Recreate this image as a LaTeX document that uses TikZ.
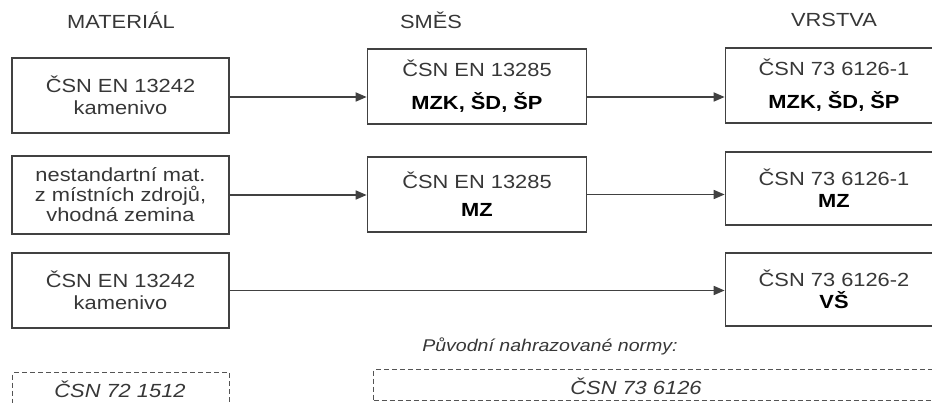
\documentclass[tikz,border=0pt]{standalone}
\usepackage{fontspec}
\setmainfont[FakeStretch=1.15]{Liberation Sans}
\usetikzlibrary{arrows.meta}
\newcommand{\typ}[1]{{\color{black}\bfseries #1}}

\begin{document}
\begin{tikzpicture}[x=1pt,y=-1pt,>={Triangle[length=11pt,width=9pt]},
 font=\fontsize{19}{22}\selectfont, line width=1.7pt]
\definecolor{frame}{RGB}{65,65,65}
\definecolor{txt}{RGB}{55,55,55}
\tikzset{
 normbox/.style={draw=frame,text=txt,align=center,minimum width=217pt,
  minimum height=75pt,inner sep=0pt},
 oldbox/.style={draw=frame!90,dash pattern=on 5pt off 3pt,line width=1.3pt,
  anchor=north west,inner sep=0pt},
 oldtext/.style={text=txt,font=\fontsize{19}{22}\selectfont\itshape},
 head/.style={text=txt},
 link/.style={->,draw=frame}
}
\useasboundingbox (0,0) rectangle (932,403);
\clip (0,0) rectangle (932,403);

% column titles
\node[head] (hmat) at (121,20) {MATERIÁL};
\node[head] (hsm) at (431,20) {SMĚS};
\node[head] (hvr) at (834,20) {VRSTVA};

% row 1
\node[normbox] (l1) at (120.5,95.5) {ČSN EN 13242\\kamenivo};
\node[normbox,minimum width=219pt] (m1) at (477,86.5)
 {ČSN EN 13285\\[11pt]\typ{MZK, ŠD, ŠP}};
\node[normbox] (v1) at (834,85.5)
 {ČSN 73 6126-1\\[11pt]\typ{MZK, ŠD, ŠP}};
\draw[link] ([yshift=-1.5pt]l1.east) -- ([yshift=-1.5pt]l1.east -| m1.west);
\draw[link] ([yshift=-10.5pt]m1.east) -- ([yshift=-10.5pt]m1.east -| v1.west);

% row 2
\node[normbox,minimum height=78pt] (l2) at (120.5,195)
 {nestandartní mat.\\[-2pt]z místních zdrojů,\\[-2pt]vhodná zemina};
\node[normbox,minimum width=219pt] (m2) at (477,194.5)
 {ČSN EN 13285\\[6pt]\typ{MZ}};
\node[normbox,minimum height=73pt] (v2) at (834,188.5)
 {ČSN 73 6126-1\\\typ{MZ}};
\draw[link] (l2.east) -- (l2.east -| m2.west);
\draw[link] (m2.east) -- (m2.east -| v2.west);

% row 3
\node[normbox] (l3) at (120.5,290.5) {ČSN EN 13242\\kamenivo};
\node[normbox,minimum height=73pt] (v3) at (834,289.5)
 {ČSN 73 6126-2\\\typ{VŠ}};
\draw[link] (l3.east) -- (l3.east -| v3.west);

% replaced standards
\node[oldtext,font=\fontsize{17}{20}\selectfont\itshape] (orig) at (550,346)
 {Původní nahrazované normy:};
\node[oldbox,minimum width=217pt,minimum height=60pt] (o1) at (12,372) {};
\node[oldtext] (o1t) at (120,389) {ČSN 72 1512};
\node[oldbox,minimum width=600pt,minimum height=31pt] (o2) at (373,369) {};
\node[oldtext] (o2t) at (636,386) {ČSN 73 6126};
\end{tikzpicture}
\end{document}
